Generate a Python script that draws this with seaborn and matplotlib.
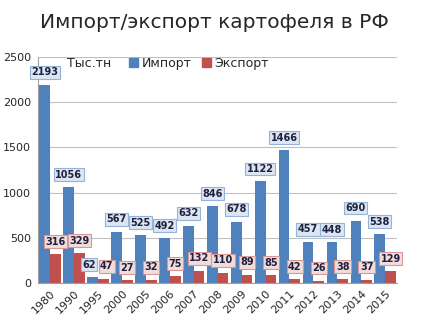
import pandas as pd
import numpy as np
import matplotlib
matplotlib.use("Agg")
import matplotlib.pyplot as plt
import seaborn as sns

years = ["1980", "1990", "1995", "2000", "2005", "2006", "2007", "2008",
         "2009", "2010", "2011", "2012", "2013", "2014", "2015"]
imports = [2193, 1056, 62, 567, 525, 492, 632, 846, 678, 1122, 1466, 457, 448, 690, 538]
exports = [316, 329, 47, 27, 32, 75, 132, 110, 89, 85, 42, 26, 38, 37, 129]

sns.set_style("white")
plt.rcParams['font.family'] = ['DejaVu Sans']

df = pd.DataFrame({
    "year": years * 2,
    "value": imports + exports,
    "kind": ["Импорт"] * len(years) + ["Экспорт"] * len(years),
})

fig = plt.figure(figsize=(4.28, 3.2), dpi=100)
ax = fig.add_axes([0.089, 0.116, 0.839, 0.706])

blue = "#4F81BD"
red = "#C0504D"
sns.barplot(data=df, x="year", y="value", hue="kind", palette=[blue, red],
            width=0.9, ax=ax, saturation=1, legend=False, linewidth=0)

ax.set_ylim(0, 2500)
ax.set_yticks(range(0, 2501, 500))
ax.yaxis.grid(True, color="#BFBFBF", lw=0.8)
ax.set_axisbelow(True)
ax.set_xlabel("")
ax.set_ylabel("")
for s in ["top", "right"]:
    ax.spines[s].set_visible(False)
ax.spines["left"].set_color("#A0A0A0")
ax.spines["bottom"].set_color("#A0A0A0")
ax.tick_params(axis="y", labelsize=8, length=3, color="#A0A0A0", pad=2)
ax.tick_params(axis="x", labelsize=8, length=3, color="#A0A0A0", pad=1)
plt.setp(ax.get_xticklabels(), rotation=45, ha="right", rotation_mode="anchor")
ax.set_xlim(-0.5, len(years) - 0.5)

# подписи значений (близкие пары немного раздвигаем)
styles = [("#DCE6F2", "#95B3D7"), ("#F2DCDB", "#D99694")]
for k, (cont, (fc, ec)) in enumerate(zip(ax.containers, styles)):
    for i, bar in enumerate(cont):
        h = bar.get_height()
        dx = 0
        if abs(imports[i] - exports[i]) < 100:
            dx = -2.5 if k == 0 else 2.5
        ax.annotate(f"{int(round(h))}", (bar.get_x() + bar.get_width() / 2, h),
                    xytext=(dx, 9), textcoords="offset points", ha="center", va="center",
                    fontsize=7, fontweight="bold", color="#1F2040",
                    bbox=dict(boxstyle="square,pad=0.15", fc=fc, ec=ec, lw=0.8))

# легенда
ax.text(0.08, 0.97, "Тыс.тн", transform=ax.transAxes, fontsize=9, va="center")
handles = [plt.Rectangle((0, 0), 1, 1, color=blue), plt.Rectangle((0, 0), 1, 1, color=red)]
ax.legend(handles, ["Импорт", "Экспорт"], ncol=2, frameon=False, fontsize=9,
          loc="center left", bbox_to_anchor=(0.24, 0.97), handlelength=0.7,
          handleheight=0.7, handletextpad=0.3, columnspacing=0.8, borderaxespad=0)

fig.text(0.5, 0.93, "Импорт/экспорт картофеля в РФ", ha="center", va="center", fontsize=14.5)

plt.savefig("out.png", dpi=100)
